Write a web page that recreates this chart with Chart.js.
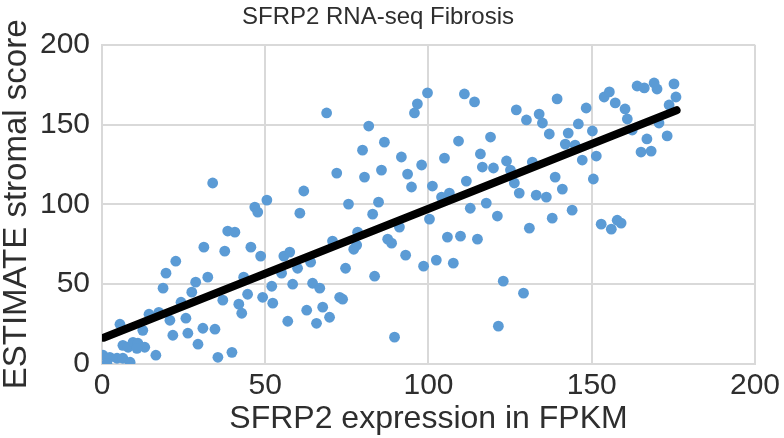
<!DOCTYPE html>
<html>
<head>
<meta charset="utf-8">
<script src="https://cdn.jsdelivr.net/npm/chart.js@4"></script>
<style>
  html, body { margin: 0; padding: 0; background: #fff; }
  #wrap { width: 784px; height: 438px; }
</style>
</head>
<body>
<div id="wrap"><canvas id="c" width="784" height="438"></canvas></div>
<script>
const sfrp2Expression = [
  0.3, 2.4, 1.5, 4.6, 6.4, 8.6, 6.4, 8.0, 9.5, 11.0, 13.1, 10.7, 5.5, 12.5, 14.4, 16.5,
  17.4, 18.7, 19.6, 20.8, 21.7, 22.6, 24.2, 25.7, 26.3, 27.5, 28.7, 29.4, 30.9, 31.2,
  32.4, 33.9, 34.6, 35.5, 37.0, 37.6, 38.5, 40.7, 39.8, 41.9, 42.8, 43.4, 44.6, 45.6,
  46.8, 47.7, 48.6, 49.2, 50.5, 52.0, 52.3, 55.0, 55.7, 56.9, 57.5, 58.4, 59.9, 60.6,
  61.8, 62.7, 63.9, 64.5, 65.7, 66.7, 67.6, 68.8, 69.7, 70.6, 71.9, 72.8, 73.7, 74.6,
  75.5, 77.1, 78.0, 78.3, 79.8, 80.4, 81.7, 82.9, 83.5, 84.7, 85.6, 86.5, 87.5, 88.7,
  89.6, 91.1, 91.7, 93.0, 93.6, 94.8, 95.7, 96.6, 97.9, 98.5, 99.7, 100.3, 101.2, 102.4,
  104.0, 104.9, 105.8, 106.4, 107.6, 109.2, 109.8, 111.0, 111.6, 112.8, 114.1, 115.0,
  115.9, 116.5, 117.7, 119.0, 119.9, 121.1, 121.4, 122.9, 123.9, 125.1, 126.3, 126.9,
  127.8, 129.1, 130.0, 130.9, 131.8, 133.0, 133.9, 134.9, 136.1, 137.0, 137.9, 138.8,
  139.4, 141.0, 141.9, 142.8, 144.0, 144.9, 145.9, 147.1, 148.3, 150.2, 150.5, 151.4,
  152.9, 153.8, 155.4, 156.0, 157.2, 157.8, 159.0, 160.2, 160.9, 162.4, 163.9, 166.1,
  165.1, 166.9, 168.2, 169.1, 170.0, 170.6, 173.1, 173.7, 175.2, 175.8
];
const stromalScore = [
  5.5, 4.2, 0.4, 3.6, 3.6, 1.1, 11.7, 10.5, 13.6, 13.0, 10.5, 9.8, 24.9, 21.1, 31.2, 5.5,
  32.4, 47.5, 56.9, 27.4, 18.0, 64.4, 38.7, 28.7, 19.3, 45.0, 51.3, 12.4, 22.4, 73.2,
  54.4, 113.4, 21.8, 4.2, 40.0, 70.7, 83.3, 82.6, 7.3, 37.5, 31.8, 54.4, 43.7, 73.2,
  98.3, 95.2, 67.6, 41.8, 102.7, 48.7, 38.1, 56.9, 67.6, 26.8, 70.1, 50.0, 60.0, 94.5,
  108.4, 33.7, 63.8, 50.6, 25.5, 47.5, 35.6, 157.3, 29.3, 77.0, 119.6, 41.8, 40.6, 60.0,
  100.2, 71.9, 74.5, 82.6, 134.0, 117.1, 149.1, 93.9, 55.0, 101.4, 121.5, 139.0, 78.2, 75.7,
  16.8, 85.8, 129.7, 68.2, 119.0, 110.9, 157.3, 163.0, 124.7, 61.3, 169.9, 90.8, 111.5, 65.1,
  104.6, 129.0, 79.5, 107.1, 63.2, 139.7, 80.1, 169.2, 114.6, 97.6, 164.2, 78.2,
  131.6, 123.4, 100.8, 142.2, 122.8, 92.7, 23.7, 51.9, 127.2, 121.5, 113.4, 159.2,
  107.1, 44.4, 152.9, 85.1, 126.5, 105.8, 156.6, 151.0, 104.6, 144.1, 91.4, 117.1,
  166.1, 109.6, 137.8, 144.7, 96.4, 137.2, 150.4, 127.8, 160.4, 146.0, 115.9, 130.3,
  87.6, 167.3, 170.5, 84.5, 163.6, 90.1, 88.3, 159.8, 153.5, 146.6, 174.2, 173.0,
  132.8, 141.0, 133.4, 176.1, 172.3, 151.0, 142.9, 162.3, 175.5, 167.3
];
const trendX = [0.5, 176];
const trendY = [16.5, 159];
const axisTicks = [0, 50, 100, 150, 200];

const scatterPoints = sfrp2Expression.map((x, i) => ({ x: x, y: stromalScore[i] }));
const trendPoints = trendX.map((x, i) => ({ x: x, y: trendY[i] }));

const FONT = "'Liberation Sans', Arial, Helvetica, sans-serif";
const TXT = '#2e2e2e';
const GRID = '#d9d9d9';

new Chart(document.getElementById('c'), {
  type: 'scatter',
  data: {
    datasets: [
      {
        label: 'Trend',
        data: trendPoints,
        showLine: true,
        borderColor: '#000000',
        borderWidth: 8,
        borderCapStyle: 'round',
        pointRadius: 0,
        pointHoverRadius: 0,
        order: 0
      },
      {
        label: 'Samples',
        data: scatterPoints,
        backgroundColor: '#5b9bd5',
        borderWidth: 0,
        pointRadius: 5.4,
        order: 1
      }
    ]
  },
  options: {
    responsive: false,
    animation: false,
    devicePixelRatio: 1,
    layout: { padding: { left: 0, right: 28, top: 0, bottom: 0 } },
    plugins: {
      legend: { display: false },
      tooltip: { enabled: false },
      title: {
        display: true,
        text: 'SFRP2 RNA-seq Fibrosis',
        color: TXT,
        align: 'center',
        font: { family: FONT, size: 24, weight: 'normal', lineHeight: 1.2 },
        padding: { top: 3, bottom: 13 }
      }
    },
    scales: {
      x: {
        type: 'linear',
        min: 0, max: 200,
        afterBuildTicks: (s) => { s.ticks = axisTicks.map(v => ({ value: v })); },
        afterFit: (s) => { s.height = 74; },
        grid: { color: GRID, lineWidth: 2, drawTicks: false },
        border: { color: GRID, width: 2 },
        ticks: { color: TXT, padding: 4, font: { family: FONT, size: 30 }, maxRotation: 0 },
        title: {
          display: true,
          text: 'SFRP2 expression in FPKM',
          color: TXT,
          font: { family: FONT, size: 32, lineHeight: 1.2 },
          padding: { top: 0, bottom: 0 }
        }
      },
      y: {
        type: 'linear',
        min: 0, max: 200,
        afterBuildTicks: (s) => { s.ticks = axisTicks.map(v => ({ value: v })); },
        afterFit: (s) => { s.width = 102; },
        grid: { color: GRID, lineWidth: 2, drawTicks: false },
        border: { color: GRID, width: 2 },
        ticks: { color: TXT, padding: 12, font: { family: FONT, size: 30 } },
        title: {
          display: true,
          text: 'ESTIMATE stromal score',
          color: TXT,
          font: { family: FONT, size: 33, lineHeight: 1 },
          padding: { top: 0, bottom: 0 }
        }
      }
    }
  }
});
</script>
</body>
</html>
